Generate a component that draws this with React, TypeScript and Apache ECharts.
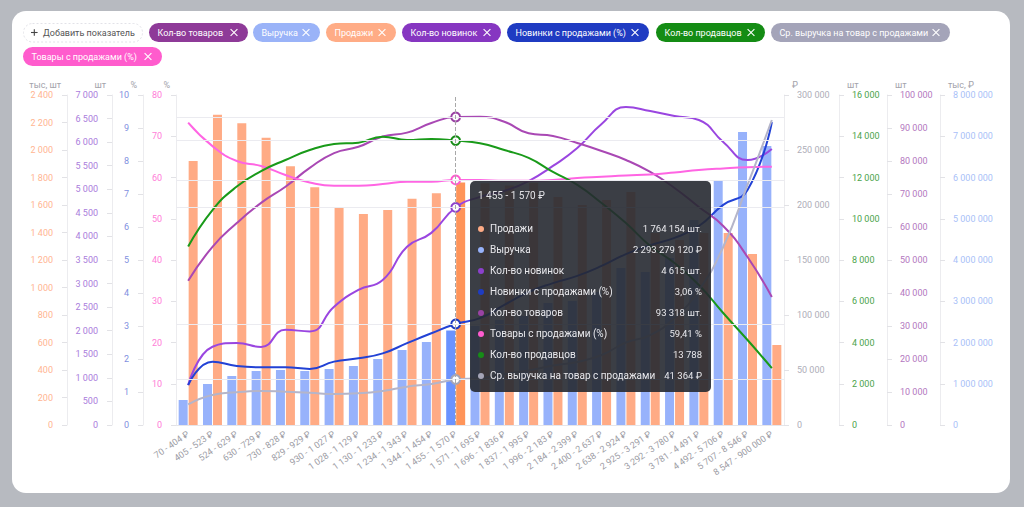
import React, { useEffect, useRef } from 'react';
import * as echarts from 'echarts';

// ---------- DATA ----------
const categories = [
  '70 - 404 ₽', '405 - 523 ₽', '524 - 629 ₽', '630 - 729 ₽', '730 - 828 ₽', '829 - 929 ₽',
  '930 - 1 027 ₽', '1 028 - 1 129 ₽', '1 130 - 1 233 ₽', '1 234 - 1 343 ₽', '1 344 - 1 454 ₽',
  '1 455 - 1 570 ₽', '1 571 - 1 695 ₽', '1 696 - 1 836 ₽', '1 837 - 1 995 ₽', '1 996 - 2 183 ₽',
  '2 184 - 2 399 ₽', '2 400 - 2 637 ₽', '2 638 - 2 924 ₽', '2 925 - 3 291 ₽', '3 292 - 3 780 ₽',
  '3 781 - 4 491 ₽', '4 492 - 5 706 ₽', '5 707 - 8 546 ₽', '8 547 - 900 000 ₽',
];

// Продажи, шт.
const salesUnits = [
  1920000, 2257000, 2194000, 2090000, 1881000, 1729000, 1583000, 1535000, 1564000, 1646000,
  1685000, 1764154, 1758000, 1741000, 1762000, 1658000, 1600000, 1636000, 1695000, 1396000,
  1345000, 1396000, 1396000, 1244000, 582000,
];
// Выручка, ₽
const revenueRub = [
  606000000, 994000000, 1188000000, 1309000000, 1333000000, 1309000000, 1358000000, 1430000000,
  1600000000, 1818000000, 2012000000, 2293279120, 2400000000, 2545000000, 2642000000, 2958000000,
  3006000000, 3224000000, 3806000000, 3709000000, 4048000000, 4970000000, 5939000000, 7103000000,
  6764000000,
];
// Кол-во новинок, шт.
const newItems = [
  848, 1660, 1740, 1655, 2020, 1985, 2510, 2865, 3075, 3780, 4075, 4615, 4840, 4965, 5175, 5495,
  5875, 6385, 6745, 6660, 6555, 6470, 6005, 5620, 5855,
];
// Новинки с продажами, %
const newWithSalesPct = [
  1.21, 1.92, 1.79, 1.75, 1.75, 1.7, 1.92, 2.02, 2.17, 2.48, 2.78, 3.06, 3.24, 3.64, 4.03, 4.3,
  4.52, 4.82, 5.18, 5.45, 5.67, 6.03, 6.67, 7.12, 9.18,
];
// Кол-во товаров, шт.
const productsCount = [
  43700, 54000, 61200, 67300, 72200, 77900, 82400, 84300, 87400, 88600, 91500, 93318, 93400,
  91900, 88400, 87580, 85450, 83030, 80300, 76670, 71820, 66060, 60300, 50900, 38800,
];
// Товары с продажами, %
const productsWithSalesPct = [
  73.3, 67.6, 64.0, 62.8, 60.6, 58.8, 58.0, 58.0, 58.4, 59.0, 59.0, 59.41, 59.4, 59.2, 59.2, 59.4,
  59.9, 60.2, 60.5, 60.7, 61.2, 61.8, 62.2, 62.5, 62.6,
];
// Кол-во продавцов
const sellersCount = [
  8650, 10420, 11560, 12310, 12850, 13330, 13620, 13690, 13980, 13820, 13870, 13788, 13660, 13330,
  12950, 12270, 11640, 10760, 9790, 8680, 7850, 6790, 5430, 4120, 2760,
];
// Ср. выручка на товар с продажами, ₽
const avgRevenue = [
  18800, 27300, 29700, 30900, 30300, 29400, 28200, 28800, 30900, 34800, 37300, 41364, 42700, 46300,
  49500, 54000, 57300, 63600, 75000, 81800, 97300, 122700, 161800, 218200, 277300,
];

const HOVER_INDEX = 11;

// ---------- STYLE ----------
const FONT = "Roboto, 'Noto Sans', sans-serif";
const C = {
  sales: '#ffab85', salesEm: '#ff9459',
  revenue: '#97b2fb', revenueEm: '#6b93ff',
  newItems: '#8c40cc',
  newPct: '#1f3cc2',
  products: '#9a42a4',
  productsPct: '#ff5ccf',
  sellers: '#178c17',
  avg: '#a5a5b7',
};

const fmt = (n: number) => String(Math.round(n)).replace(/\B(?=(\d{3})+(?!\d))/g, ' ');
const pct = (n: number) => n.toFixed(2).replace('.', ',') + ' %';

const chips = [
  { text: 'Кол-во товаров', color: '#8e3a98', x: 149, w: 99, row: 0 },
  { text: 'Выручка', color: '#9ab3f8', x: 253, w: 67, row: 0 },
  { text: 'Продажи', color: '#ffac86', x: 326, w: 70, row: 0 },
  { text: 'Кол-во новинок', color: '#8636c1', x: 402, w: 99, row: 0 },
  { text: 'Новинки с продажами (%)', color: '#1f3bc2', x: 507, w: 142, row: 0 },
  { text: 'Кол-во продавцов', color: '#148c14', x: 656, w: 109, row: 0 },
  { text: 'Ср. выручка на товар с продажами', color: '#a4a4b9', x: 771, w: 179, row: 0 },
  { text: 'Товары с продажами (%)', color: '#ff5ccd', x: 23, w: 139, row: 1 },
];

function buildGraphic() {
  const els: any[] = [
    {
      type: 'rect', z: -10, silent: true,
      shape: { x: 12, y: 11, width: 998, height: 482, r: 14 },
      style: { fill: '#ffffff' },
    },
    {
      type: 'rect', silent: true,
      shape: { x: 23.5, y: 23.5, width: 119, height: 18.5, r: 9 },
      style: { fill: '#ffffff', stroke: '#e2e2e8', lineWidth: 1, lineDash: [2, 2] },
    },
    { type: 'line', silent: true, shape: { x1: 31, y1: 32.5, x2: 37.6, y2: 32.5 }, style: { stroke: '#444', lineWidth: 1.1 } },
    { type: 'line', silent: true, shape: { x1: 34.3, y1: 29.2, x2: 34.3, y2: 35.8 }, style: { stroke: '#444', lineWidth: 1.1 } },
    {
      type: 'text', silent: true, x: 43, y: 32.5,
      style: {
        text: 'Добавить показатель', fill: '#555', fontSize: 9, fontFamily: FONT,
        align: 'left', verticalAlign: 'middle', textAlign: 'left', textVerticalAlign: 'middle',
      },
    },
  ];
  chips.forEach((c) => {
    const y = c.row === 0 ? 23 : 47;
    const h = 19;
    const cy = y + h / 2;
    els.push({
      type: 'rect', silent: true,
      shape: { x: c.x, y, width: c.w, height: h, r: h / 2 },
      style: { fill: c.color },
    });
    els.push({
      type: 'text', silent: true, x: c.x + 8.5, y: cy,
      style: {
        text: c.text, fill: '#ffffff', fontSize: 9, fontFamily: FONT,
        align: 'left', verticalAlign: 'middle', textAlign: 'left', textVerticalAlign: 'middle',
      },
    });
    const xc = c.x + c.w - 14;
    const s = 3.4;
    els.push({ type: 'line', silent: true, shape: { x1: xc - s, y1: cy - s, x2: xc + s, y2: cy + s }, style: { stroke: '#fff', lineWidth: 1.1 } });
    els.push({ type: 'line', silent: true, shape: { x1: xc - s, y1: cy + s, x2: xc + s, y2: cy - s }, style: { stroke: '#fff', lineWidth: 1.1 } });
  });
  return els;
}

function yAxisCfg(o: {
  position: 'left' | 'right'; offset: number; max: number; interval: number; name: string;
  color: string; formatter?: (v: number) => string;
}) {
  const left = o.position === 'left';
  return {
    type: 'value',
    position: o.position,
    offset: o.offset,
    min: 0,
    max: o.max,
    interval: o.interval,
    name: o.name,
    nameLocation: 'end',
    nameGap: 10,
    nameTextStyle: {
      color: '#a3a3ab', fontSize: 9, fontFamily: FONT,
      align: left ? 'right' : 'left', verticalAlign: 'middle',
      padding: left ? [0, 6, 0, 0] : [0, 0, 0, 8],
    },
    axisLine: { show: true, onZero: false, lineStyle: { color: '#ececef', width: 1 } },
    axisTick: { show: true, length: 5, lineStyle: { color: '#e2e2e6' } },
    axisLabel: {
      color: o.color, fontSize: 9, fontFamily: FONT, margin: left ? 14 : 13,
      formatter: o.formatter || ((v: number) => fmt(v)),
    },
    splitLine: { show: false },
  };
}

function lineSeries(name: string, data: number[], yAxisIndex: number, color: string) {
  return {
    type: 'line', name, data, yAxisIndex,
    smooth: 0.5, showSymbol: false, symbol: 'emptyCircle', symbolSize: 8,
    lineStyle: { color, width: 2 },
    itemStyle: { color, borderWidth: 2 },
    emphasis: { lineStyle: { width: 2 } },
    z: 4,
    markLine: {
      silent: true, symbol: ['none', 'none'], label: { show: false }, animation: false,
      lineStyle: { color: '#ebebf0', width: 1, type: 'solid' },
      emphasis: { disabled: true },
      data: [{ yAxis: data[HOVER_INDEX] }],
    },
  };
}

function tooltipFormatter(params: any) {
  const i = Array.isArray(params) ? params[0].dataIndex : params.dataIndex;
  const rows: [string, string, string][] = [
    [C.sales, 'Продажи', fmt(salesUnits[i]) + ' шт.'],
    [C.revenue, 'Выручка', fmt(revenueRub[i]) + ' ₽'],
    [C.newItems, 'Кол-во новинок', fmt(newItems[i]) + ' шт.'],
    [C.newPct, 'Новинки с продажами (%)', pct(newWithSalesPct[i])],
    [C.products, 'Кол-во товаров', fmt(productsCount[i]) + ' шт.'],
    [C.productsPct, 'Товары с продажами (%)', pct(productsWithSalesPct[i])],
    [C.sellers, 'Кол-во продавцов', fmt(sellersCount[i])],
    [C.avg, 'Ср. выручка на товар с продажами', fmt(avgRevenue[i]) + ' ₽'],
  ];
  const body = rows
    .map(
      ([color, label, value]) =>
        `<div style="display:flex;align-items:center;height:21px;line-height:21px;">` +
        `<span style="display:inline-block;flex:none;width:6px;height:6px;border-radius:50%;background:${color};margin-right:6px;"></span>` +
        `<span style="flex:1;color:#e8e8ec;white-space:nowrap;font-size:10px;">${label}</span>` +
        `<span style="color:#e8e8ec;white-space:nowrap;font-size:9.5px;padding-left:6px;">${value}</span></div>`
    )
    .join('');
  return (
    `<div style="width:224px;padding:8px 9px 6px 8px;font-family:${FONT};font-size:10px;">` +
    `<div style="height:14px;line-height:14px;margin-bottom:15px;color:#e2e2e6;font-size:10px;">${categories[i]}</div>` +
    body +
    `</div>`
  );
}

export default function App() {
  const ref = useRef<HTMLDivElement>(null);

  useEffect(() => {
    document.body.style.margin = '0';
    if (!ref.current) return;
    const chart = echarts.init(ref.current, null, { renderer: 'svg' });
    const option: any = {
      animation: false,
      backgroundColor: '#b7bac0',
      textStyle: { fontFamily: FONT },
      graphic: buildGraphic(),
      grid: { left: 176, right: 240, top: 95, bottom: 82, containLabel: false },
      tooltip: {
        trigger: 'axis',
        triggerOn: 'none',
        alwaysShowContent: true,
        position: [470, 181],
        transitionDuration: 0,
        backgroundColor: 'rgba(38,41,49,0.9)',
        borderWidth: 0,
        padding: 0,
        textStyle: { fontSize: 10, fontFamily: FONT, color: '#e8e8ec' },
        extraCssText: 'box-shadow:none;border-radius:5px;',
        axisPointer: {
          type: 'line',
          lineStyle: { color: '#a8a8a8', type: 'dashed', width: 1 },
          label: { show: false },
        },
        formatter: tooltipFormatter,
      },
      xAxis: {
        type: 'category',
        data: categories,
        boundaryGap: true,
        axisLine: { show: true, lineStyle: { color: '#e6e6ea' } },
        axisTick: { show: false },
        axisLabel: { interval: 0, rotate: 35, color: '#9d9da5', fontSize: 9, fontFamily: FONT, margin: 8 },
        splitLine: { show: false },
      },
      yAxis: [
        yAxisCfg({ position: 'left', offset: 109, max: 2400000, interval: 200000, name: 'тыс, шт', color: '#ffb592', formatter: (v) => fmt(v / 1000) }),
        yAxisCfg({ position: 'left', offset: 64, max: 7000, interval: 500, name: 'шт', color: '#aa7ddc' }),
        yAxisCfg({ position: 'left', offset: 33, max: 10, interval: 1, name: '%', color: '#7f90e0' }),
        yAxisCfg({ position: 'left', offset: 0, max: 80, interval: 10, name: '%', color: '#ff7dd8' }),
        yAxisCfg({ position: 'right', offset: 0, max: 300000, interval: 50000, name: '₽', color: '#aeaeb8' }),
        yAxisCfg({ position: 'right', offset: 55, max: 16000, interval: 2000, name: 'шт', color: '#4ba34b' }),
        yAxisCfg({ position: 'right', offset: 103, max: 100000, interval: 10000, name: 'шт', color: '#b377c0' }),
        yAxisCfg({ position: 'right', offset: 156, max: 8000000000, interval: 1000000000, name: 'тыс, ₽', color: '#a9bff8', formatter: (v) => fmt(v / 1000) }),
      ],
      series: [
        {
          type: 'bar', name: 'Выручка', data: revenueRub, yAxisIndex: 7,
          barWidth: 9, barGap: '11%', z: 2,
          itemStyle: { color: C.revenue },
          emphasis: { itemStyle: { color: C.revenueEm } },
        },
        {
          type: 'bar', name: 'Продажи', data: salesUnits, yAxisIndex: 0,
          barWidth: 9, barGap: '11%', z: 2,
          itemStyle: { color: C.sales },
          emphasis: { itemStyle: { color: C.salesEm } },
        },
        lineSeries('Кол-во новинок', newItems, 1, C.newItems),
        lineSeries('Новинки с продажами (%)', newWithSalesPct, 2, C.newPct),
        lineSeries('Кол-во товаров', productsCount, 6, C.products),
        lineSeries('Товары с продажами (%)', productsWithSalesPct, 3, C.productsPct),
        lineSeries('Кол-во продавцов', sellersCount, 5, C.sellers),
        lineSeries('Ср. выручка на товар с продажами', avgRevenue, 4, C.avg),
      ],
    };
    chart.setOption(option);
    chart.dispatchAction({ type: 'showTip', seriesIndex: 0, dataIndex: HOVER_INDEX });
    return () => chart.dispose();
  }, []);

  return (
    <div style={{ position: 'fixed', left: 0, top: 0, width: 1024, height: 507 }}>
      <div ref={ref} style={{ width: 1024, height: 507 }} />
    </div>
  );
}
